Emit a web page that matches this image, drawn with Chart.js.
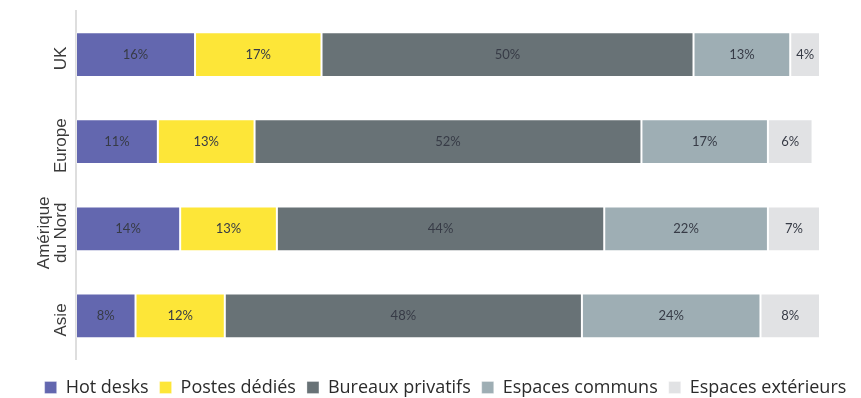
<!DOCTYPE html>
<html>
<head>
<meta charset="utf-8">
<script src="https://cdn.jsdelivr.net/npm/chart.js@4.4.1/dist/chart.umd.min.js"></script>
<style>
  html,body{margin:0;padding:0;background:#fff}
  #wrap{width:861px;height:398px;position:relative}
</style>
</head>
<body>
<div id="wrap"><canvas id="chart"></canvas></div>
<script>
const regions=[['UK'],['Europe'],['Amérique','du Nord'],['Asie']];
const hotDesks=[16,11,14,8];
const postesDedies=[17,13,13,12];
const bureauxPrivatifs=[50,52,44,48];
const espacesCommuns=[13,17,22,24];
const espacesExterieurs=[4,6,7,8];

const seriesNames=['Hot desks','Postes dédiés','Bureaux privatifs','Espaces communs','Espaces extérieurs'];
const seriesColors=['#6367af','#fde638','#687276','#9eaeb4','#e1e2e4'];
const seriesData=[hotDesks,postesDedies,bureauxPrivatifs,espacesCommuns,espacesExterieurs];

// percentage printed in the middle of every segment
const segmentLabels={
  id:'segmentLabels',
  afterDatasetsDraw(chart){
    const ctx=chart.ctx;
    ctx.save();
    ctx.font='13px Lato';
    ctx.fillStyle='#373b46';
    ctx.textAlign='center';
    ctx.textBaseline='middle';
    chart.data.datasets.forEach((ds,i)=>{
      chart.getDatasetMeta(i).data.forEach((bar,j)=>{
        ctx.fillText(ds.data[j]+'%',(bar.x+bar.base)/2,bar.y);
      });
    });
    ctx.restore();
  }
};

// region names, written bottom-to-top left of the axis
const regionLabels={
  id:'regionLabels',
  afterDraw(chart){
    const y=chart.scales.y,ctx=chart.ctx;
    ctx.save();
    ctx.font='17px "Liberation Sans"';
    ctx.fillStyle='#3a3a3a';
    ctx.textAlign='center';
    ctx.textBaseline='alphabetic';
    y.getLabels().forEach((lines,i)=>{
      const cy=y.getPixelForValue(i)+4;
      lines.forEach((line,k)=>{
        const bx=y.right-10-(lines.length-1-k)*17;
        ctx.save();
        ctx.translate(bx,cy);
        ctx.rotate(-Math.PI/2);
        ctx.fillText(line,0,0);
        ctx.restore();
      });
    });
    ctx.restore();
  }
};

new Chart(document.getElementById('chart'),{
  type:'bar',
  data:{
    labels:regions,
    datasets:seriesData.map((d,i)=>({
      label:seriesNames[i],
      data:d,
      backgroundColor:seriesColors[i],
      borderColor:'rgba(255,255,255,0.3)',
      borderWidth:1,
      borderSkipped:false,
      categoryPercentage:1,
      barPercentage:0.515
    }))
  },
  options:{
    indexAxis:'y',
    responsive:true,
    maintainAspectRatio:false,
    animation:false,
    layout:{padding:{left:30,right:0,top:11,bottom:-8.5}},
    scales:{
      x:{stacked:true,min:0,max:100,grid:{display:false},border:{display:false},ticks:{display:false},
         afterFit(s){s.height=8;}},
      y:{stacked:true,grid:{display:false},border:{color:'#dedede',width:2},ticks:{display:false},
         afterFit(s){s.width=46;}},
      y2:{type:'linear',position:'right',grid:{display:false},border:{display:false},ticks:{display:false},
         afterFit(s){s.width=41;}}
    },
    plugins:{
      legend:{
        position:'bottom',
        labels:{boxWidth:12,boxHeight:12,padding:11,color:'#2b2b2b',font:{family:'Open Sans',size:18}}
      },
      tooltip:{enabled:false}
    }
  },
  plugins:[segmentLabels,regionLabels]
});
</script>
</body>
</html>
